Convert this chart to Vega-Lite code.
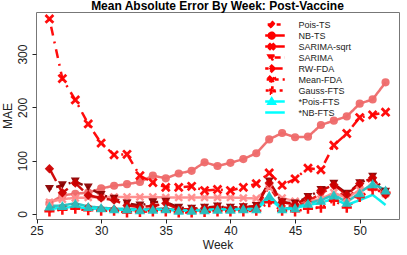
{
  "$schema": "https://vega.github.io/schema/vega-lite/v6.json",
  "autosize": "none",
  "width": 363,
  "height": 207,
  "padding": {"left": 36, "top": 12, "right": 8, "bottom": 36},
  "title": {"text": "Mean Absolute Error By Week: Post-Vaccine", "fontSize": 12, "fontWeight": "bold", "font": "Liberation Sans", "color": "#000", "offset": -0.5, "anchor": "middle"},
  "config": {
    "font": "Liberation Sans",
    "view": {"stroke": "#777", "strokeWidth": 1},
    "axis": {"grid": false, "domain": false, "labelFlush": false, "labelOverlap": false, "tickColor": "#222", "tickSize": 4, "labelFontSize": 12, "labelColor": "#222", "titleFontSize": 12, "titleFontWeight": "normal", "titleColor": "#222"}
  },
  "data": {"values": [
    {"week": 26, "Pois-TS": 12, "NB-TS": 20, "SARIMA-sqrt": 22, "SARIMA": 47, "RW-FDA": 85, "Mean-FDA": 366, "Gauss-FTS": 5, "*Pois-FTS": 15, "*NB-FTS": 10},
    {"week": 27, "Pois-TS": 14, "NB-TS": 35, "SARIMA-sqrt": 28, "SARIMA": 54, "RW-FDA": 40, "Mean-FDA": 254, "Gauss-FTS": 8, "*Pois-FTS": 16, "*NB-FTS": 11},
    {"week": 28, "Pois-TS": 18, "NB-TS": 38, "SARIMA-sqrt": 30, "SARIMA": 61, "RW-FDA": 58, "Mean-FDA": 214, "Gauss-FTS": 10, "*Pois-FTS": 20, "*NB-FTS": 14},
    {"week": 29, "Pois-TS": 14, "NB-TS": 40, "SARIMA-sqrt": 31, "SARIMA": 50, "RW-FDA": 35, "Mean-FDA": 169, "Gauss-FTS": 7, "*Pois-FTS": 14, "*NB-FTS": 10},
    {"week": 30, "Pois-TS": 11, "NB-TS": 48, "SARIMA-sqrt": 32, "SARIMA": 36, "RW-FDA": 30, "Mean-FDA": 133, "Gauss-FTS": 6, "*Pois-FTS": 12, "*NB-FTS": 10},
    {"week": 31, "Pois-TS": 10, "NB-TS": 53, "SARIMA-sqrt": 32, "SARIMA": 29, "RW-FDA": 26, "Mean-FDA": 111, "Gauss-FTS": 6, "*Pois-FTS": 10, "*NB-FTS": 8},
    {"week": 32, "Pois-TS": 8, "NB-TS": 56, "SARIMA-sqrt": 32, "SARIMA": 20, "RW-FDA": 16, "Mean-FDA": 112, "Gauss-FTS": 3, "*Pois-FTS": 10, "*NB-FTS": 8},
    {"week": 33, "Pois-TS": 7, "NB-TS": 60, "SARIMA-sqrt": 32, "SARIMA": 16, "RW-FDA": 13, "Mean-FDA": 72, "Gauss-FTS": 4, "*Pois-FTS": 8, "*NB-FTS": 7},
    {"week": 34, "Pois-TS": 9, "NB-TS": 72, "SARIMA-sqrt": 32, "SARIMA": 22, "RW-FDA": 15, "Mean-FDA": 59, "Gauss-FTS": 5, "*Pois-FTS": 9, "*NB-FTS": 8},
    {"week": 35, "Pois-TS": 10, "NB-TS": 67, "SARIMA-sqrt": 31, "SARIMA": 23, "RW-FDA": 20, "Mean-FDA": 50, "Gauss-FTS": 5, "*Pois-FTS": 10, "*NB-FTS": 8},
    {"week": 36, "Pois-TS": 6, "NB-TS": 76, "SARIMA-sqrt": 31, "SARIMA": 12, "RW-FDA": 9, "Mean-FDA": 50, "Gauss-FTS": 3, "*Pois-FTS": 7, "*NB-FTS": 6},
    {"week": 37, "Pois-TS": 6, "NB-TS": 81, "SARIMA-sqrt": 31, "SARIMA": 10, "RW-FDA": 9, "Mean-FDA": 52, "Gauss-FTS": 3, "*Pois-FTS": 7, "*NB-FTS": 6},
    {"week": 38, "Pois-TS": 8, "NB-TS": 97, "SARIMA-sqrt": 31, "SARIMA": 12, "RW-FDA": 11, "Mean-FDA": 44, "Gauss-FTS": 4, "*Pois-FTS": 8, "*NB-FTS": 7},
    {"week": 39, "Pois-TS": 9, "NB-TS": 90, "SARIMA-sqrt": 31, "SARIMA": 14, "RW-FDA": 13, "Mean-FDA": 46, "Gauss-FTS": 5, "*Pois-FTS": 9, "*NB-FTS": 8},
    {"week": 40, "Pois-TS": 9, "NB-TS": 96, "SARIMA-sqrt": 31, "SARIMA": 12, "RW-FDA": 11, "Mean-FDA": 44, "Gauss-FTS": 5, "*Pois-FTS": 9, "*NB-FTS": 8},
    {"week": 41, "Pois-TS": 9, "NB-TS": 103, "SARIMA-sqrt": 30, "SARIMA": 13, "RW-FDA": 13, "Mean-FDA": 50, "Gauss-FTS": 5, "*Pois-FTS": 10, "*NB-FTS": 8},
    {"week": 42, "Pois-TS": 9, "NB-TS": 114, "SARIMA-sqrt": 29, "SARIMA": 15, "RW-FDA": 14, "Mean-FDA": 57, "Gauss-FTS": 6, "*Pois-FTS": 10, "*NB-FTS": 8},
    {"week": 43, "Pois-TS": 52, "NB-TS": 140, "SARIMA-sqrt": 50, "SARIMA": 61, "RW-FDA": 58, "Mean-FDA": 77, "Gauss-FTS": 22, "*Pois-FTS": 35, "*NB-FTS": 30},
    {"week": 44, "Pois-TS": 15, "NB-TS": 152, "SARIMA-sqrt": 30, "SARIMA": 22, "RW-FDA": 22, "Mean-FDA": 54, "Gauss-FTS": 6, "*Pois-FTS": 10, "*NB-FTS": 8},
    {"week": 45, "Pois-TS": 14, "NB-TS": 144, "SARIMA-sqrt": 24, "SARIMA": 20, "RW-FDA": 18, "Mean-FDA": 66, "Gauss-FTS": 5, "*Pois-FTS": 12, "*NB-FTS": 11},
    {"week": 46, "Pois-TS": 24, "NB-TS": 145, "SARIMA-sqrt": 24, "SARIMA": 32, "RW-FDA": 30, "Mean-FDA": 86, "Gauss-FTS": 10, "*Pois-FTS": 20, "*NB-FTS": 17},
    {"week": 47, "Pois-TS": 38, "NB-TS": 167, "SARIMA-sqrt": 28, "SARIMA": 45, "RW-FDA": 44, "Mean-FDA": 83, "Gauss-FTS": 12, "*Pois-FTS": 26, "*NB-FTS": 21},
    {"week": 48, "Pois-TS": 52, "NB-TS": 175, "SARIMA-sqrt": 40, "SARIMA": 57, "RW-FDA": 55, "Mean-FDA": 129, "Gauss-FTS": 25, "*Pois-FTS": 36, "*NB-FTS": 29},
    {"week": 49, "Pois-TS": 28, "NB-TS": 183, "SARIMA-sqrt": 30, "SARIMA": 38, "RW-FDA": 36, "Mean-FDA": 151, "Gauss-FTS": 12, "*Pois-FTS": 22, "*NB-FTS": 17},
    {"week": 50, "Pois-TS": 52, "NB-TS": 207, "SARIMA-sqrt": 45, "SARIMA": 58, "RW-FDA": 57, "Mean-FDA": 181, "Gauss-FTS": 32, "*Pois-FTS": 40, "*NB-FTS": 26},
    {"week": 51, "Pois-TS": 66, "NB-TS": 215, "SARIMA-sqrt": 50, "SARIMA": 70, "RW-FDA": 68, "Mean-FDA": 186, "Gauss-FTS": 46, "*Pois-FTS": 57, "*NB-FTS": 36},
    {"week": 52, "Pois-TS": 36, "NB-TS": 247, "SARIMA-sqrt": 38, "SARIMA": 42, "RW-FDA": 36, "Mean-FDA": 191, "Gauss-FTS": 40, "*Pois-FTS": 45, "*NB-FTS": 17}
  ]},
  "transform": [
    {"fold": ["Pois-TS", "NB-TS", "SARIMA-sqrt", "SARIMA", "RW-FDA", "Mean-FDA", "Gauss-FTS", "*Pois-FTS", "*NB-FTS"], "as": ["model", "mae"]}
  ],
  "encoding": {
    "x": {"field": "week", "type": "quantitative", "scale": {"domain": [24.96, 53.04], "nice": false, "zero": false}, "axis": {"values": [25, 30, 35, 40, 45, 50], "title": "Week", "labelPadding": 2, "titlePadding": 3}},
    "y": {"field": "mae", "type": "quantitative", "scale": {"domain": [-9.4, 379], "nice": false, "zero": false}, "axis": {"values": [0, 100, 200, 300], "title": "MAE", "labelAngle": -90, "labelAlign": "center", "labelBaseline": "bottom", "labelPadding": 3, "titlePadding": 2}}
  },
  "layer": [
    {
      "mark": {"type": "line", "strokeWidth": 2.5, "opacity": 0.95},
      "encoding": {
        "color": {"field": "model", "type": "nominal", "legend": null, "scale": {"domain": ["Pois-TS", "NB-TS", "SARIMA-sqrt", "SARIMA", "RW-FDA", "Mean-FDA", "Gauss-FTS", "*Pois-FTS", "*NB-FTS"], "range": ["#E81010", "#EE6A6A", "#FF8C8C", "#8B0000", "#CD0000", "#FF0000", "#FF0000", "#20C5C5", "#00EEEE"]}},
        "strokeDash": {"field": "model", "type": "nominal", "legend": null, "scale": {"domain": ["Pois-TS", "NB-TS", "SARIMA-sqrt", "SARIMA", "RW-FDA", "Mean-FDA", "Gauss-FTS", "*Pois-FTS", "*NB-FTS"], "range": [[6, 6], [1, 0], [1, 0], [2, 5, 8, 5], [14, 6], [2, 6, 9, 6], [2, 6], [1, 0], [1, 0]]}}
      }
    },
    {
      "transform": [{"filter": "datum.model != '*NB-FTS'"}],
      "mark": {"type": "point", "filled": true, "opacity": 0.95},
      "encoding": {
        "color": {"field": "model", "type": "nominal", "legend": null, "scale": {"domain": ["Pois-TS", "NB-TS", "SARIMA-sqrt", "SARIMA", "RW-FDA", "Mean-FDA", "Gauss-FTS", "*Pois-FTS"], "range": ["#E81010", "#EE6A6A", "#FF8C8C", "#8B0000", "#CD0000", "#FF0000", "#FF0000", "#20C5C5"]}},
        "shape": {"field": "model", "type": "nominal", "legend": null, "scale": {"domain": ["Pois-TS", "NB-TS", "SARIMA-sqrt", "SARIMA", "RW-FDA", "Mean-FDA", "Gauss-FTS", "*Pois-FTS"], "range": ["diamond", "circle", "M-1,-0.6L-0.6,-1L0,-0.4L0.6,-1L1,-0.6L0.4,0L1,0.6L0.6,1L0,0.4L-0.6,1L-1,0.6L-0.4,0Z", "triangle-down", "diamond", "M-1,-0.6L-0.6,-1L0,-0.4L0.6,-1L1,-0.6L0.4,0L1,0.6L0.6,1L0,0.4L-0.6,1L-1,0.6L-0.4,0Z", "M-0.25,-1H0.25V-0.25H1V0.25H0.25V1H-0.25V0.25H-1V-0.25H-0.25Z", "triangle-up"]}},
        "size": {"field": "model", "type": "nominal", "legend": null, "scale": {"domain": ["Pois-TS", "NB-TS", "SARIMA-sqrt", "SARIMA", "RW-FDA", "Mean-FDA", "Gauss-FTS", "*Pois-FTS"], "range": [60, 110, 50, 90, 70, 110, 40, 80]}}
      }
    },
    {
      "transform": [{"filter": "datum.week < 0"}],
      "mark": {"type": "point", "filled": true, "strokeWidth": 2.5, "opacity": 1},
      "encoding": {
        "color": {"field": "model", "type": "nominal", "scale": {"domain": ["Pois-TS", "NB-TS", "SARIMA-sqrt", "SARIMA", "RW-FDA", "Mean-FDA", "Gauss-FTS", "*Pois-FTS", "*NB-FTS"], "range": ["#FF0000", "#FF0000", "#FF0000", "#FF0000", "#FF0000", "#FF0000", "#FF0000", "#00FFFF", "#00FFFF"]},
          "legend": {"orient": "none", "legendX": 229.2, "legendY": 7.2, "title": null, "labelFontSize": 9, "labelColor": "#222", "labelOffset": 20.3, "symbolSize": 93.5, "rowPadding": 0, "clipHeight": 10.75, "symbolOpacity": 1, "symbolStrokeWidth": 2.5, "padding": 0}},
        "stroke": {"field": "model", "type": "nominal", "scale": {"domain": ["Pois-TS", "NB-TS", "SARIMA-sqrt", "SARIMA", "RW-FDA", "Mean-FDA", "Gauss-FTS", "*Pois-FTS", "*NB-FTS"], "range": ["#FF0000", "#FF0000", "#FF0000", "#FF0000", "#FF0000", "#FF0000", "#FF0000", "#00FFFF", "#00FFFF"]}},
        "shape": {"field": "model", "type": "nominal", "scale": {"domain": ["Pois-TS", "NB-TS", "SARIMA-sqrt", "SARIMA", "RW-FDA", "Mean-FDA", "Gauss-FTS", "*Pois-FTS", "*NB-FTS"], "range": ["M-2.7,0H2.7M0,-0.65L0.65,0L0,0.65L-0.65,0Z", "M-2.7,0H2.7M0.6,0A0.6,0.6,0,1,1,-0.6,0A0.6,0.6,0,1,1,0.6,0Z", "M-2.7,0H2.7M-0.5,-0.35L-0.35,-0.5L0,-0.15L0.35,-0.5L0.5,-0.35L0.15,0L0.5,0.35L0.35,0.5L0,0.15L-0.35,0.5L-0.5,0.35L-0.15,0Z", "M-2.7,0H2.7M-0.65,-0.45H0.65L0,0.65Z", "M-2.7,0H2.7M0,-0.6L0.6,0L0,0.6L-0.6,0Z", "M-2.7,0H2.7M-0.6,-0.4L-0.4,-0.6L0,-0.2L0.4,-0.6L0.6,-0.4L0.2,0L0.6,0.4L0.4,0.6L0,0.2L-0.4,0.6L-0.6,0.4L-0.2,0Z", "M-2.7,0H2.7M-0.15,-0.65H0.15V-0.15H0.65V0.15H0.15V0.65H-0.15V0.15H-0.65V-0.15H-0.15Z", "M-2.7,0H2.7M0,-0.65L0.65,0.45H-0.65Z", "M-2.7,0H2.7"]}},
        "strokeDash": {"field": "model", "type": "nominal", "scale": {"domain": ["Pois-TS", "NB-TS", "SARIMA-sqrt", "SARIMA", "RW-FDA", "Mean-FDA", "Gauss-FTS", "*Pois-FTS", "*NB-FTS"], "range": [[4, 5], [1, 0], [1, 0], [6, 4, 2, 4], [10, 4], [4, 4], [3, 4], [1, 0], [1, 0]]}}
      }
    }
  ],
  "resolve": {"scale": {"color": "independent", "shape": "independent", "strokeDash": "independent", "size": "independent", "stroke": "independent"}}
}
